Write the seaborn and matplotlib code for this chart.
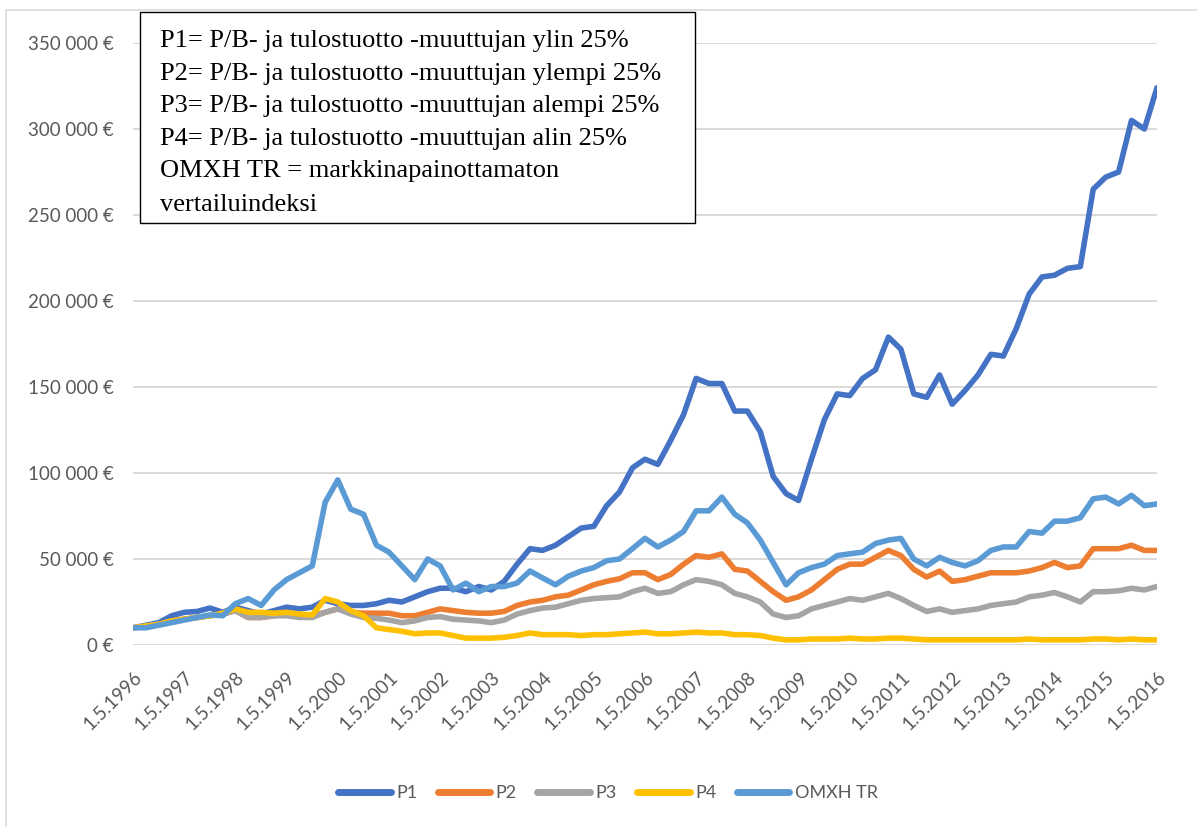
import numpy as np
import pandas as pd
import matplotlib
matplotlib.use("Agg")
import matplotlib.pyplot as plt
from matplotlib.patches import Rectangle
from matplotlib.transforms import ScaledTranslation
import seaborn as sns

# ---------------- data (values in thousand euros, quarterly from 1.5.1996) ----------------
start_date = "1996-05-01"
end_date = "2016-05-01"

p1 = [10, 11.5, 13, 17, 19, 19.5, 21.5, 19, 22, 20,
      18, 20, 22, 21, 22, 26, 24, 23, 23, 24,
      26, 25, 28, 31, 33, 33, 31, 34, 32, 37,
      47, 56, 55, 58, 63, 68, 69, 81, 89, 103,
      108, 105, 119, 134, 155, 152, 152, 136, 136, 124,
      98, 88, 84, 108, 131, 146, 145, 155, 160, 179,
      172, 146, 144, 157, 140, 148, 157, 169, 168, 184,
      204, 214, 215, 219, 220, 265, 272, 275, 305, 300,
      324]
p2 = [10, 11, 12, 14, 15, 16, 17, 18, 20, 16,
      16, 17, 18, 17, 17, 19, 21, 19, 18.5, 18.5,
      18.5, 17, 17, 19, 21, 20, 19, 18.5, 18.5, 19.5,
      23, 25, 26, 28, 29, 32, 35, 37, 38.5, 42,
      42, 38, 41, 47, 52, 51, 53, 44, 43, 37,
      31, 26, 28, 32, 38, 44, 47, 47, 51, 55,
      52, 44, 39.5, 43, 37, 38, 40, 42, 42, 42,
      43, 45, 48, 45, 46, 56, 56, 56, 58, 55,
      55]
p3 = [10, 11, 12, 14, 15, 16, 17, 18, 20, 16,
      16, 17, 17, 16, 16, 19, 21, 18, 16, 15.5,
      14.5, 13, 14, 16, 16.5, 15, 14.5, 14, 13, 14.5,
      18, 20, 21.5, 22, 24, 26, 27, 27.5, 28, 31,
      33, 30, 31, 35, 38, 37, 35, 30, 28, 25,
      18, 16, 17, 21, 23, 25, 27, 26, 28, 30,
      27, 23, 19.5, 21, 19, 20, 21, 23, 24, 25,
      28, 29, 30.5, 28, 25, 31, 31, 31.5, 33, 32,
      34]
p4 = [10, 11, 12, 14, 15, 16, 17, 18.5, 21, 19,
      19, 18.5, 19, 18, 17.5, 27, 25, 20, 17, 10,
      9, 8, 6.5, 7, 7, 5.5, 4, 4, 4, 4.5,
      5.5, 7, 6, 6, 6, 5.5, 6, 6, 6.5, 7,
      7.5, 6.5, 6.5, 7, 7.5, 7, 7, 6, 6, 5.5,
      4, 3, 3, 3.5, 3.5, 3.5, 4, 3.5, 3.5, 4,
      4, 3.5, 3, 3, 3, 3, 3, 3, 3, 3,
      3.5, 3, 3, 3, 3, 3.5, 3.5, 3, 3.5, 3,
      3]
omxh = [10, 10, 11.5, 13, 14.5, 16, 17.5, 17, 24, 27,
        23, 32, 38, 42, 46, 83, 96, 79, 76, 58,
        54, 46, 38, 50, 46, 32, 36, 31, 34, 34,
        36, 43, 39, 35, 40, 43, 45, 49, 50, 56,
        62, 57, 61, 66, 78, 78, 86, 76, 71, 61,
        48, 35, 42, 45, 47, 52, 53, 54, 59, 61,
        62, 50, 46, 51, 48, 46, 49, 55, 57, 57,
        66, 65, 72, 72, 74, 85, 86, 82, 87, 81,
        82]

series_names = ["P1", "P2", "P3", "P4", "OMXH TR"]
series_colors = ["#4472C4", "#ED7D31", "#A5A5A5", "#FFC000", "#5B9BD5"]
tick_years = list(range(1996, 2017))
y_ticks = [0, 50000, 100000, 150000, 200000, 250000, 300000, 350000]

legend_lines = [
    "P1= P/B- ja tulostuotto -muuttujan ylin 25%",
    "P2= P/B- ja tulostuotto -muuttujan ylempi 25%",
    "P3= P/B- ja tulostuotto -muuttujan alempi 25%",
    "P4= P/B- ja tulostuotto -muuttujan alin 25%",
    "OMXH TR = markkinapainottamaton",
    "vertailuindeksi",
]

# ---------------- build long-form frame ----------------
dates = pd.date_range(start_date, end_date, freq="3MS")
frames = []
for name, vals in zip(series_names, [p1, p2, p3, p4, omxh]):
    frames.append(pd.DataFrame({"date": dates, "value": np.array(vals) * 1000.0, "series": name}))
df = pd.concat(frames, ignore_index=True)

# ---------------- style ----------------
sns.set_theme(style="white")
plt.rcParams["font.family"] = ["Lato", "DejaVu Sans"]

W, H = 1197, 827
fig = plt.figure(figsize=(W / 100, H / 100), dpi=100)
fig.patch.set_facecolor("white")

ax_l, ax_r, ax_t, ax_b = 133, 1157, 43, 645
ax = fig.add_axes([ax_l / W, 1 - ax_b / H, (ax_r - ax_l) / W, (ax_b - ax_t) / H])

sns.lineplot(data=df, x="date", y="value", hue="series", hue_order=series_names,
             palette=series_colors, linewidth=4.0, errorbar=None, ax=ax, legend=True)

ax.set_ylim(0, 350000)
ax.set_xlim(pd.Timestamp(start_date), pd.Timestamp(end_date))
ax.set_yticks(y_ticks)
ax.set_yticklabels([("{:,}".format(v).replace(",", " ") + " €") for v in y_ticks])
ax.set_xticks([pd.Timestamp(f"{y}-05-01") for y in tick_years])
ax.set_xticklabels([f"1.5.{y}" for y in tick_years], rotation=45, ha="right",
                   va="center", rotation_mode="anchor")
ax.tick_params(axis="y", length=0, pad=14, labelsize=13.5, labelcolor="#595959")
ax.tick_params(axis="x", length=0, pad=21, labelsize=13.5, labelcolor="#595959")
shift = ScaledTranslation(6 / 100, 0, fig.dpi_scale_trans)
for lab in ax.get_xticklabels():
    lab.set_transform(lab.get_transform() + shift)
ax.set_xlabel("")
ax.set_ylabel("")
for s in ax.spines.values():
    s.set_visible(False)
ax.yaxis.grid(True, color="#d9d9d9", linewidth=1.4)
ax.xaxis.grid(False)
ax.set_axisbelow(True)

# legend at bottom
handles, labels = ax.get_legend_handles_labels()
ax.get_legend().remove()
for h in handles:
    h.set_linewidth(5)
fig.legend(handles, labels, loc="center", bbox_to_anchor=(608 / W, 1 - 793 / H),
           ncol=5, frameon=False, fontsize=13, handlelength=2.9, handletextpad=0.3,
           columnspacing=1.15, labelcolor="#595959")

# outer chart border (only top and left edges fall inside the image)
fig.add_artist(Rectangle((6 / W, -0.1), 1.2, 1.1 - 10 / H, transform=fig.transFigure,
                         fill=False, edgecolor="#d9d9d9", linewidth=1.2))

# text box
bx0, by0, bx1, by1 = 140, 12, 695, 223
fig.add_artist(Rectangle((bx0 / W, 1 - by1 / H), (bx1 - bx0) / W, (by1 - by0) / H,
                         transform=fig.transFigure, facecolor="white", edgecolor="black",
                         linewidth=1.0, zorder=5))
baselines = [47, 80, 112, 145, 177, 211]
for line, b in zip(legend_lines, baselines):
    fig.text(160 / W, 1 - b / H, line, fontsize=19, family=["Liberation Serif", "DejaVu Serif"],
             color="black", va="baseline", ha="left", zorder=6)

fig.savefig("out.png", dpi=100)
